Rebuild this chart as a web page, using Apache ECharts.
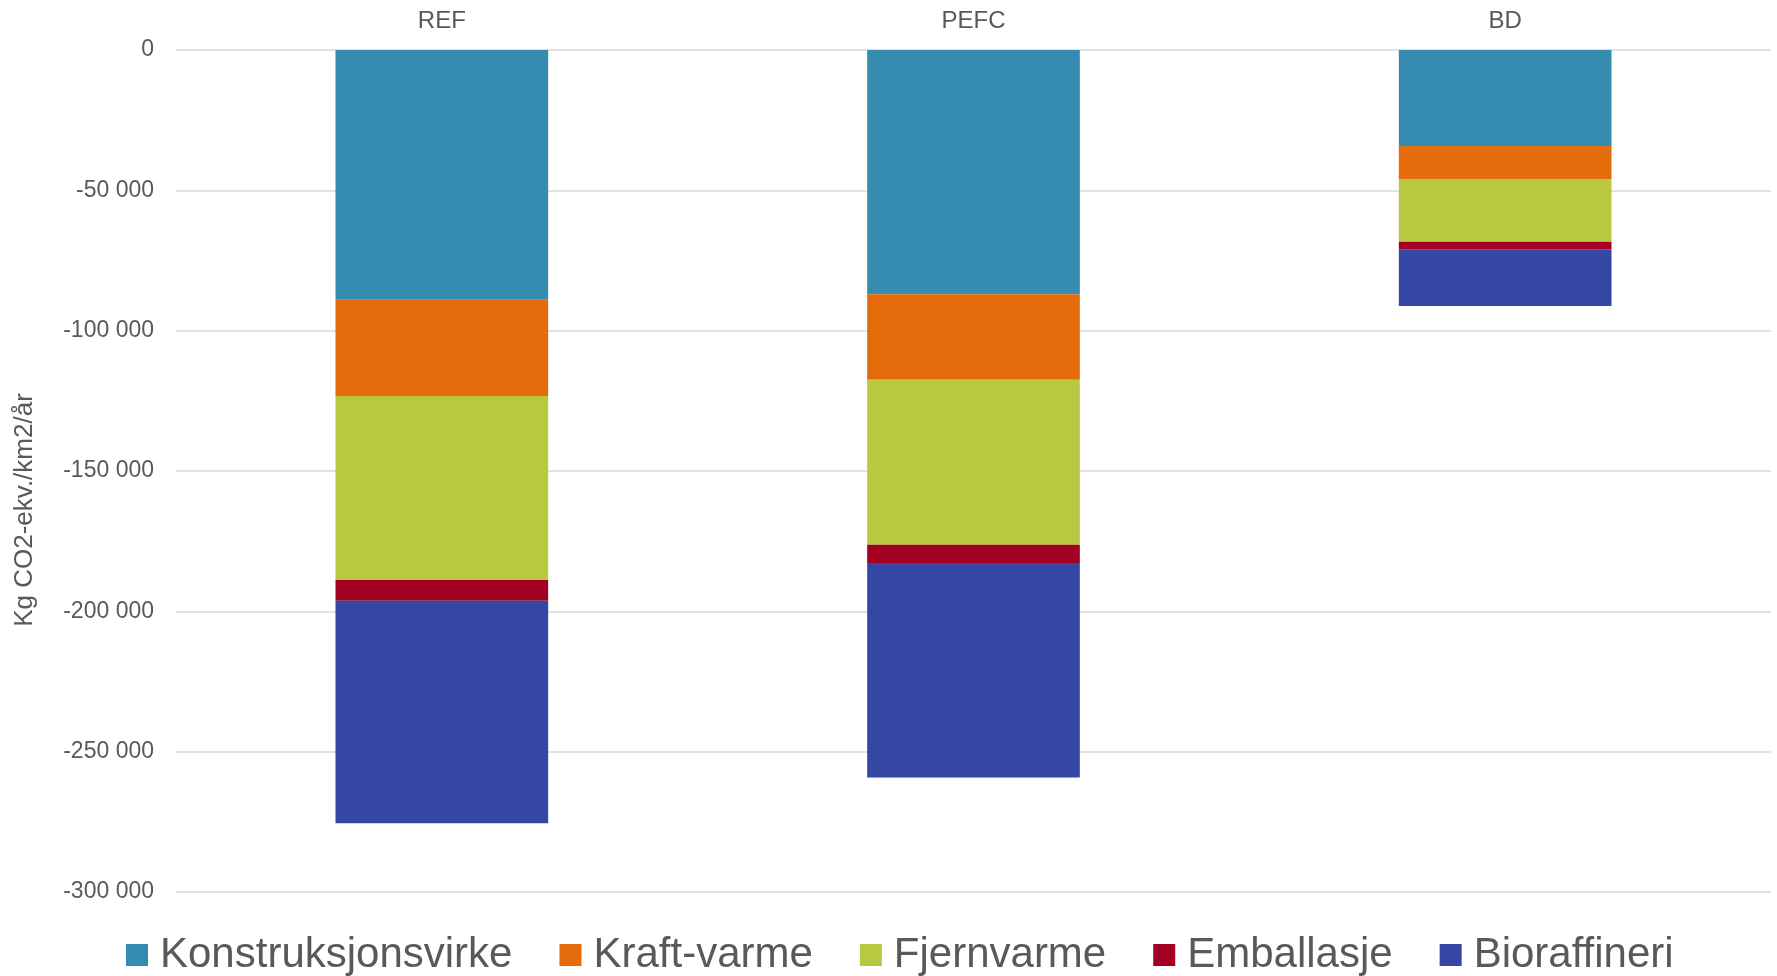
<!DOCTYPE html>
<html>
<head>
<meta charset="utf-8">
<script src="https://cdn.jsdelivr.net/npm/echarts@6/dist/echarts.min.js"></script>
<style>
  html, body { margin: 0; padding: 0; background: #ffffff; }
  #chart { width: 1777px; height: 976px; }
</style>
</head>
<body>
<div id="chart"></div>
<script>
const categories = ['REF', 'PEFC', 'BD'];
const seriesNames = ['Konstruksjonsvirke', 'Kraft-varme', 'Fjernvarme', 'Emballasje', 'Bioraffineri'];
const konstruksjonsvirke = [-89000, -87000, -34200];
const kraftVarme = [-34300, -30500, -11800];
const fjernvarme = [-65500, -58800, -22300];
const emballasje = [-7400, -6500, -2700];
const bioraffineri = [-79300, -76400, -20200];
const yTitle = 'Kg CO2-ekv./km2/år';

const seriesValues = [konstruksjonsvirke, kraftVarme, fjernvarme, emballasje, bioraffineri];
const colors = ['#368CB0', '#E46C0A', '#B8C941', '#A30023', '#3347A3'];
const textColor = '#595959';

function fmt(v) {
  const neg = v < 0;
  let s = String(Math.abs(Math.round(v)));
  s = s.replace(/\B(?=(\d{3})+(?!\d))/g, ' ');
  return (neg ? '-' : '') + s;
}

const chart = echarts.init(document.getElementById('chart'), null, { renderer: 'canvas' });
chart.setOption({
  animation: false,
  backgroundColor: '#ffffff',
  color: colors,
  textStyle: { fontFamily: 'Liberation Sans, Arial, sans-serif' },
  grid: { left: 176, right: 6, top: 50, bottom: 84, containLabel: false },
  legend: {
    data: seriesNames,
    left: 121,
    top: 929,
    itemWidth: 22,
    itemHeight: 22,
    itemGap: 47,
    icon: 'rect',
    textStyle: { fontSize: 42, color: textColor, padding: [0, 0, 0, 7], fontFamily: 'Liberation Sans, Arial, sans-serif' }
  },
  xAxis: {
    type: 'category',
    data: categories,
    position: 'top',
    axisLine: { show: false },
    axisTick: { show: false },
    axisLabel: { color: textColor, fontSize: 24, margin: 17 }
  },
  yAxis: {
    type: 'value',
    min: -300000,
    max: 0,
    interval: 50000,
    axisLine: { show: false },
    axisTick: { show: false },
    axisLabel: { color: textColor, fontSize: 23, margin: 22, formatter: fmt },
    splitLine: { lineStyle: { color: '#D9D9D9', width: 1.5 } }
  },
  graphic: [{
    type: 'text',
    x: 25,
    y: 510,
    rotation: Math.PI / 2,
    style: {
      text: yTitle,
      fill: textColor,
      fontSize: 26,
      fontFamily: 'Liberation Sans, Arial, sans-serif',
      align: 'center',
      verticalAlign: 'middle'
    }
  }],
  series: seriesNames.map((name, i) => ({
    name: name,
    type: 'bar',
    stack: 'total',
    barWidth: '40%',
    data: seriesValues[i],
    itemStyle: { color: colors[i] }
  }))
});
</script>
</body>
</html>
